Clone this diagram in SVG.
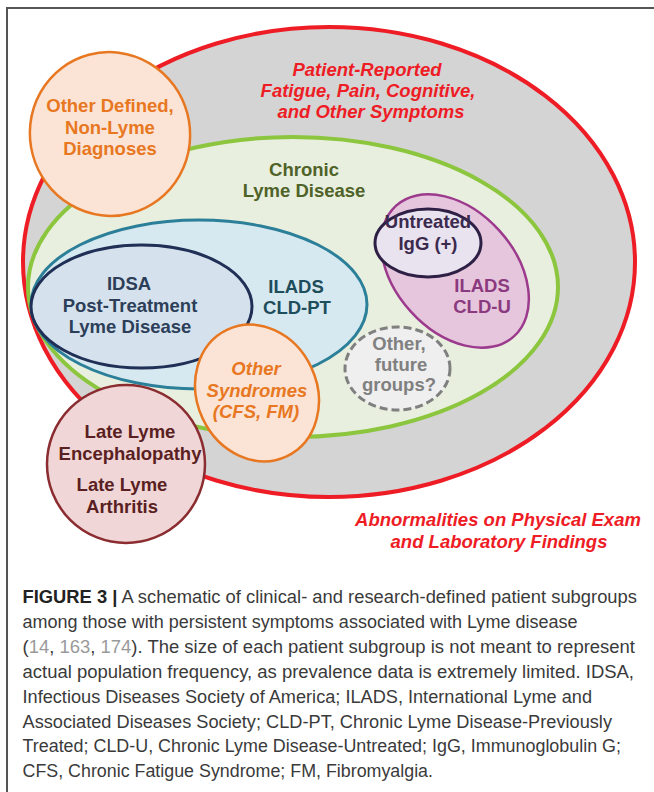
<svg xmlns="http://www.w3.org/2000/svg" width="654" height="792" viewBox="0 0 654 792">
<style>
.lbl{font-family:"Liberation Sans",Arial,sans-serif;font-weight:bold;font-size:18.5px;text-anchor:middle}
.it{font-style:italic}
.cap{font-family:"Liberation Sans",Arial,sans-serif;font-size:17.5px;fill:#3a3a3a}
.ref{fill:#9a9a9a}
</style>
<rect x="7" y="8" width="700" height="800" fill="#ffffff" stroke="#555555" stroke-width="2"/>
<g id="symptoms">
<ellipse cx="329" cy="262" rx="306" ry="235" fill="#d4d4d4" stroke="#ee1c25" stroke-width="4"/>
<text class="lbl it" fill="#ee1c25"><tspan x="367" y="76">Patient-Reported</tspan><tspan x="368" y="97">Fatigue, Pain, Cognitive,</tspan><tspan x="371" y="118">and Other Symptoms</tspan></text>
<text class="lbl it" fill="#ee1c25"><tspan x="498" y="526">Abnormalities on Physical Exam</tspan><tspan x="499" y="548">and Laboratory Findings</tspan></text>
</g>
<g id="chronic">
<ellipse cx="293" cy="287" rx="265" ry="150" fill="#e9efde" stroke="#8cc63f" stroke-width="4"/>
<text class="lbl" fill="#4f6228"><tspan x="304" y="176">Chronic</tspan><tspan x="304" y="197">Lyme Disease</tspan></text>
</g>
<g id="ilads-pt">
<ellipse cx="199" cy="304.5" rx="168" ry="84.5" fill="#d7e9f0" stroke="#2b7f98" stroke-width="3"/>
<text class="lbl" fill="#1e4d5c"><tspan x="296" y="293">ILADS</tspan><tspan x="297" y="314">CLD-PT</tspan></text>
</g>
<g id="idsa">
<ellipse cx="141.5" cy="306.5" rx="110.5" ry="61.5" fill="#d5e2ee" stroke="#1f2f55" stroke-width="3"/>
<text class="lbl" fill="#2c3e58"><tspan x="129" y="290">IDSA</tspan><tspan x="130" y="312">Post-Treatment</tspan><tspan x="130" y="333">Lyme Disease</tspan></text>
</g>
<g id="ilads-u">
<ellipse cx="0" cy="0" rx="88" ry="60" transform="translate(455 271) rotate(48)" fill="#e6c6dc" stroke="#9c3a8d" stroke-width="2.5"/>
<text class="lbl" fill="#8b3a80"><tspan x="482" y="292">ILADS</tspan><tspan x="482" y="313">CLD-U</tspan></text>
</g>
<g id="untreated">
<ellipse cx="428" cy="243" rx="53" ry="34" fill="#e9e2ef" stroke="#2e1f45" stroke-width="3"/>
<text class="lbl" fill="#3b2a4d"><tspan x="428" y="228">Untreated</tspan><tspan x="428" y="250">IgG (+)</tspan></text>
</g>
<g id="future">
<ellipse cx="397.5" cy="368.5" rx="52.5" ry="41.5" fill="#efefef" stroke="#7f7f7f" stroke-width="3" stroke-dasharray="8 4"/>
<text class="lbl" fill="#808080"><tspan x="399" y="350">Other,</tspan><tspan x="401" y="371">future</tspan><tspan x="399" y="391">groups?</tspan></text>
</g>
<g id="other-syndromes">
<ellipse cx="0" cy="0" rx="60" ry="70" transform="translate(257 393) rotate(-25)" fill="#fbe4d5" stroke="#e87722" stroke-width="2.5"/>
<text class="lbl it" fill="#e87722"><tspan x="256" y="375">Other</tspan><tspan x="257" y="397">Syndromes</tspan><tspan x="256" y="418">(CFS, FM)</tspan></text>
</g>
<g id="late-lyme">
<ellipse cx="126" cy="464" rx="79" ry="79" fill="#f0d6d6" stroke="#8b2c30" stroke-width="2.5"/>
<text class="lbl" fill="#5a1f22"><tspan x="130" y="438">Late Lyme</tspan><tspan x="130" y="460">Encephalopathy</tspan><tspan x="122" y="491">Late Lyme</tspan><tspan x="122" y="513">Arthritis</tspan></text>
</g>
<g id="other-defined">
<ellipse cx="0" cy="0" rx="80" ry="82" transform="translate(110 134) rotate(-15)" fill="#fbe4d5" stroke="#e87722" stroke-width="2.5"/>
<text class="lbl" fill="#e87722"><tspan x="110" y="112">Other Defined,</tspan><tspan x="110" y="134">Non-Lyme</tspan><tspan x="110" y="155">Diagnoses</tspan></text>
</g>
<g id="caption">
<text class="cap" x="22.5" y="603" textLength="614.5" lengthAdjust="spacingAndGlyphs"><tspan font-weight="bold" fill="#222">FIGURE 3 |</tspan> A schematic of clinical- and research-defined patient subgroups</text>
<text class="cap" x="22.5" y="627.9" textLength="555" lengthAdjust="spacingAndGlyphs">among those with persistent symptoms associated with Lyme disease</text>
<text class="cap" x="22.5" y="652.8" textLength="612.5" lengthAdjust="spacingAndGlyphs">(<tspan class="ref">14</tspan>, <tspan class="ref">163</tspan>, <tspan class="ref">174</tspan>). The size of each patient subgroup is not meant to represent</text>
<text class="cap" x="22.5" y="677.7" textLength="611.5" lengthAdjust="spacingAndGlyphs">actual population frequency, as prevalence data is extremely limited. IDSA,</text>
<text class="cap" x="22.5" y="702.6" textLength="569.5" lengthAdjust="spacingAndGlyphs">Infectious Diseases Society of America; ILADS, International Lyme and</text>
<text class="cap" x="22.5" y="727.5" textLength="589.5" lengthAdjust="spacingAndGlyphs">Associated Diseases Society; CLD-PT, Chronic Lyme Disease-Previously</text>
<text class="cap" x="22.5" y="752.4" textLength="598.5" lengthAdjust="spacingAndGlyphs">Treated; CLD-U, Chronic Lyme Disease-Untreated; IgG, Immunoglobulin G;</text>
<text class="cap" x="22.5" y="777.3" textLength="410.5" lengthAdjust="spacingAndGlyphs">CFS, Chronic Fatigue Syndrome; FM, Fibromyalgia.</text>
</g>
</svg>
